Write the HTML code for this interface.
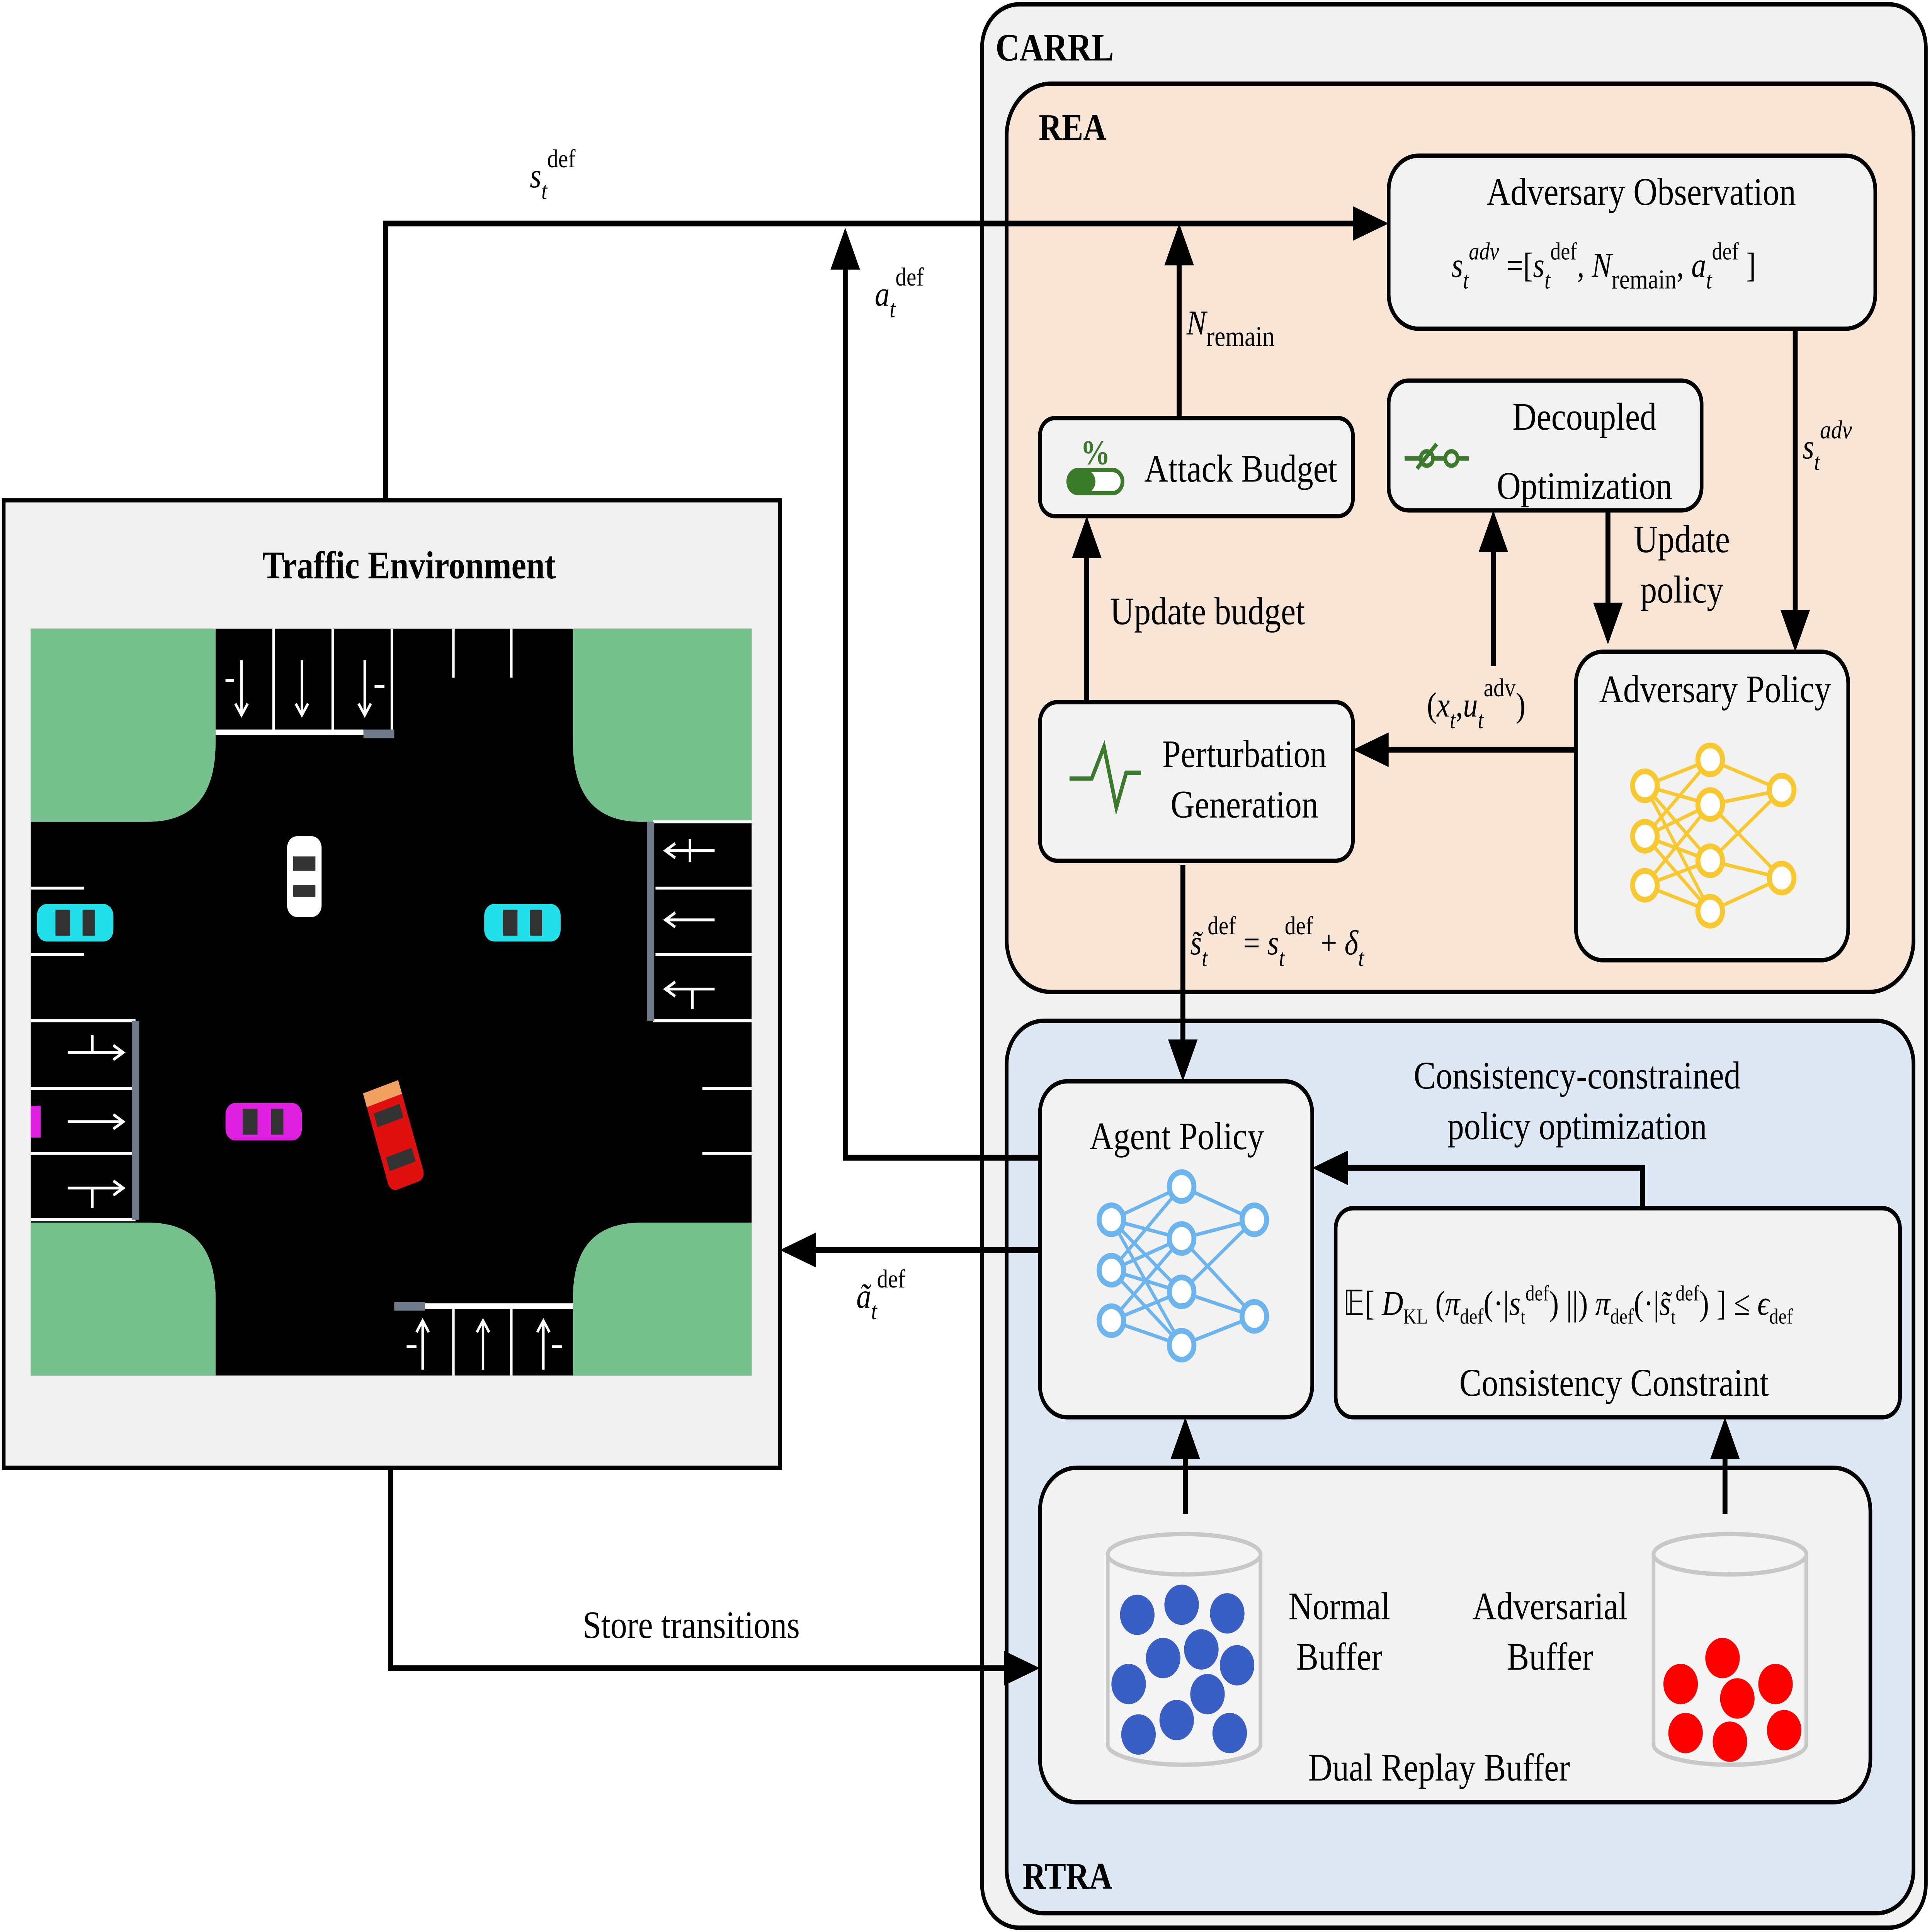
<!DOCTYPE html>
<html><head><meta charset="utf-8">
<style>
html,body{margin:0;padding:0;background:#fff;width:100%;height:100%;overflow:hidden;}
svg{display:block;position:fixed;left:0;top:0;width:100vw;height:100vh;}
text{font-family:"Liberation Serif",serif;fill:#000;}
</style></head>
<body>
<svg viewBox="0 0 1568 1340" preserveAspectRatio="none" xmlns="http://www.w3.org/2000/svg">
<rect width="1568" height="1340" fill="#fff"/>
<rect x="797" y="3" width="766" height="1334" rx="30" fill="#f0f0f0" stroke="#000" stroke-width="3"/>
<text x="808" y="42" font-size="27" font-weight="bold">CARRL</text>
<rect x="817" y="58" width="736" height="630" rx="36" fill="#f8e5d6" stroke="#000" stroke-width="3"/>
<text x="843" y="97" font-size="26" font-weight="bold">REA</text>
<rect x="817" y="708" width="736" height="619" rx="30" fill="#dde8f4" stroke="#000" stroke-width="3"/>
<text x="830" y="1310" font-size="26" font-weight="bold">RTRA</text>

<g fill="#f2f2f2" stroke="#000" stroke-width="3">
<rect x="1127" y="108" width="395" height="120" rx="24"/>
<rect x="1127" y="264" width="254" height="90" rx="16"/>
<rect x="844" y="290" width="254" height="68" rx="12"/>
<rect x="1279" y="452" width="221" height="214" rx="22"/>
<rect x="844" y="487" width="254" height="110" rx="14"/>
<rect x="844" y="750" width="221" height="233" rx="22"/>
<rect x="1084" y="838" width="458" height="145" rx="14"/>
<rect x="844" y="1018" width="674" height="232" rx="30"/>
</g>
<text x="1332" y="142" font-size="27" text-anchor="middle">Adversary Observation</text>
<text x="1178" y="192" font-size="24" font-style="italic">s<tspan dy="8" font-size="17">t</tspan><tspan dy="-20" font-size="17">adv</tspan><tspan dy="12" font-style="normal"> =[</tspan>s<tspan dy="8" font-size="17">t</tspan><tspan dy="-20" font-size="17" font-style="normal">def</tspan><tspan dy="12" font-style="normal">, </tspan>N<tspan dy="8" font-size="19" font-style="normal">remain</tspan><tspan dy="-8" font-style="normal">, </tspan>a<tspan dy="8" font-size="17">t</tspan><tspan dy="-20" font-size="17" font-style="normal">def</tspan><tspan dy="12" font-style="normal"> ]</tspan></text>

<text x="1286" y="298" font-size="27" text-anchor="middle">Decoupled</text>
<text x="1286" y="346" font-size="27" text-anchor="middle">Optimization</text>
<g stroke="#3a7a2a" stroke-width="3" fill="none"><line x1="1140" y1="318" x2="1192" y2="318"/><circle cx="1158" cy="318" r="5" fill="#f2f2f2"/><circle cx="1178" cy="318" r="5" fill="#f2f2f2"/><line x1="1150" y1="325" x2="1166" y2="308"/></g>

<text x="1007" y="334" font-size="27" text-anchor="middle">Attack Budget</text>
<g><rect x="867" y="326" width="44" height="16" rx="8" fill="#fff" stroke="#3a7a2a" stroke-width="3"/><rect x="867" y="326" width="22" height="16" rx="8" fill="#3a7a2a"/><text x="889" y="322" font-size="24" text-anchor="middle" style="fill:#3a7a2a" font-weight="bold">%</text></g>

<text x="1392" y="487" font-size="27" text-anchor="middle">Adversary Policy</text>
<text x="1010" y="532" font-size="27" text-anchor="middle">Perturbation</text>
<text x="1010" y="567" font-size="27" text-anchor="middle">Generation</text>
<polyline points="868,540 886,540 896,518 906,560 914,536 926,536" fill="none" stroke="#3a7a2a" stroke-width="3"/>

<text x="955" y="797" font-size="27" text-anchor="middle">Agent Policy</text>
<text x="1280" y="755" font-size="27" text-anchor="middle">Consistency-constrained</text>
<text x="1280" y="790" font-size="27" text-anchor="middle">policy optimization</text>
<text x="1310" y="968" font-size="27" text-anchor="middle">Consistency Constraint</text>
<text x="1090" y="912" font-size="24">𝔼[ <tspan font-style="italic">D</tspan><tspan dy="6" font-size="15">KL</tspan><tspan dy="-6"> (</tspan><tspan font-style="italic">π</tspan><tspan dy="6" font-size="15">def</tspan><tspan dy="-6">(·|</tspan><tspan font-style="italic">s</tspan><tspan dy="6" font-size="14">t</tspan><tspan dy="-16" font-size="15">def</tspan><tspan dy="10">) ||) </tspan><tspan font-style="italic">π</tspan><tspan dy="6" font-size="15">def</tspan><tspan dy="-6">(·|</tspan><tspan font-style="italic">s̃</tspan><tspan dy="6" font-size="14">t</tspan><tspan dy="-16" font-size="15">def</tspan><tspan dy="10">) ] ≤ </tspan><tspan font-style="italic">ϵ</tspan><tspan dy="6" font-size="15">def</tspan></text>

<text x="1087" y="1123" font-size="27" text-anchor="middle">Normal</text>
<text x="1087" y="1158" font-size="27" text-anchor="middle">Buffer</text>
<text x="1258" y="1123" font-size="27" text-anchor="middle">Adversarial</text>
<text x="1258" y="1158" font-size="27" text-anchor="middle">Buffer</text>
<text x="1168" y="1235" font-size="27" text-anchor="middle">Dual Replay Buffer</text>

<g fill="#f4f4f4" stroke="#c8c8c8" stroke-width="3">
<path d="M899,1078 L899,1210 A62,14 0 0 0 1023,1210 L1023,1078"/>
<ellipse cx="961" cy="1078" rx="62" ry="14"/>
<path d="M1342,1078 L1342,1210 A62,14 0 0 0 1466,1210 L1466,1078"/>
<ellipse cx="1404" cy="1078" rx="62" ry="14"/>
</g>
<g fill="#3a5fc4">
<circle cx="923" cy="1120" r="14"/><circle cx="959" cy="1113" r="14"/><circle cx="996" cy="1119" r="14"/>
<circle cx="944" cy="1150" r="14"/><circle cx="975" cy="1144" r="14"/><circle cx="916" cy="1168" r="14"/>
<circle cx="1004" cy="1155" r="14"/><circle cx="980" cy="1175" r="14"/><circle cx="924" cy="1203" r="14"/>
<circle cx="955" cy="1193" r="14"/><circle cx="998" cy="1202" r="14"/>
</g>
<g fill="#f00">
<circle cx="1398" cy="1150" r="14"/><circle cx="1364" cy="1168" r="14"/><circle cx="1410" cy="1178" r="14"/>
<circle cx="1441" cy="1168" r="14"/><circle cx="1368" cy="1202" r="14"/><circle cx="1404" cy="1208" r="14"/><circle cx="1448" cy="1200" r="14"/>
</g>

<g stroke="#f7c830" stroke-width="2.5" fill="none">
<path d="M1335,545 L1388,527 M1335,545 L1388,558 M1335,545 L1388,597 M1335,545 L1388,632 M1335,580 L1388,527 M1335,580 L1388,558 M1335,580 L1388,597 M1335,580 L1388,632 M1335,614 L1388,558 M1335,614 L1388,597 M1335,614 L1388,632 M1388,527 L1446,548 M1388,558 L1446,548 M1388,597 L1446,548 M1388,558 L1446,609 M1388,597 L1446,609 M1388,632 L1446,609"/>
</g>
<g fill="#fff" stroke="#f7c830" stroke-width="4">
<circle cx="1335" cy="545" r="10"/><circle cx="1335" cy="580" r="10"/><circle cx="1335" cy="614" r="10"/>
<circle cx="1388" cy="527" r="10"/><circle cx="1388" cy="558" r="10"/><circle cx="1388" cy="597" r="10"/><circle cx="1388" cy="632" r="10"/>
<circle cx="1446" cy="548" r="10"/><circle cx="1446" cy="609" r="10"/>
</g>
<g stroke="#6cb4ee" stroke-width="2.5" fill="none">
<path d="M902,846 L959,823 M902,846 L959,859 M902,846 L959,896 M902,846 L959,933 M902,881 L959,823 M902,881 L959,859 M902,881 L959,896 M902,881 L959,933 M902,916 L959,859 M902,916 L959,896 M902,916 L959,933 M959,823 L1018,846 M959,859 L1018,846 M959,896 L1018,846 M959,859 L1018,913 M959,896 L1018,913 M959,933 L1018,913"/>
</g>
<g fill="#fff" stroke="#6cb4ee" stroke-width="4">
<circle cx="902" cy="846" r="10"/><circle cx="902" cy="881" r="10"/><circle cx="902" cy="916" r="10"/>
<circle cx="959" cy="823" r="10"/><circle cx="959" cy="859" r="10"/><circle cx="959" cy="896" r="10"/><circle cx="959" cy="933" r="10"/>
<circle cx="1018" cy="846" r="10"/><circle cx="1018" cy="913" r="10"/>
</g>

<rect x="3" y="347" width="630" height="671" fill="#f0f0f0" stroke="#000" stroke-width="3"/>
<text x="332" y="401" font-size="27" font-weight="bold" text-anchor="middle">Traffic Environment</text>
<rect x="25" y="436" width="585" height="518" fill="#000"/>
<g fill="#76c08e">
<path d="M25,436 L175,436 L175,515 Q175,570 120,570 L25,570 Z"/>
<path d="M465,436 L610,436 L610,570 L520,570 Q465,570 465,515 Z"/>
<path d="M25,848 L120,848 Q175,848 175,900 L175,954 L25,954 Z"/>
<path d="M520,848 L610,848 L610,954 L465,954 L465,900 Q465,848 520,848 Z"/>
</g>
<g stroke="#fff" stroke-width="2" fill="none">
<line x1="175" y1="508" x2="295" y2="508" stroke-width="4"/>
<line x1="222" y1="436" x2="222" y2="506"/><line x1="270" y1="436" x2="270" y2="506"/><line x1="318" y1="436" x2="318" y2="506"/>
<line x1="368" y1="436" x2="368" y2="470"/><line x1="415" y1="436" x2="415" y2="470"/>
<line x1="530" y1="570" x2="610" y2="570"/><line x1="530" y1="708" x2="610" y2="708"/>
<line x1="532" y1="616" x2="610" y2="616"/><line x1="532" y1="662" x2="610" y2="662"/>
<line x1="25" y1="708" x2="110" y2="708"/><line x1="25" y1="755" x2="110" y2="755"/><line x1="25" y1="800" x2="110" y2="800"/><line x1="25" y1="846" x2="110" y2="846"/>
<line x1="25" y1="616" x2="68" y2="616"/><line x1="25" y1="662" x2="68" y2="662"/>
<line x1="570" y1="755" x2="610" y2="755"/><line x1="570" y1="800" x2="610" y2="800"/>
<line x1="320" y1="906" x2="465" y2="906" stroke-width="4"/>
<line x1="368" y1="906" x2="368" y2="954"/><line x1="415" y1="906" x2="415" y2="954"/>
<path d="M196,458 L196,496 M191,488 L196,496 L201,488 M183,472 L190,472"/>
<path d="M245,458 L245,496 M240,488 L245,496 L250,488"/>
<path d="M296,458 L296,496 M291,488 L296,496 L301,488 M304,476 L312,476"/>
<path d="M540,590 L580,590 M548,585 L540,590 L548,595 M560,582 L560,598"/>
<path d="M540,638 L580,638 M548,633 L540,638 L548,643"/>
<path d="M540,686 L580,686 M548,681 L540,686 L548,691 M562,686 L562,700"/>
<path d="M55,730 L100,730 M92,725 L100,730 L92,735 M75,718 L75,730"/>
<path d="M55,778 L100,778 M92,773 L100,778 L92,783"/>
<path d="M55,824 L100,824 M92,819 L100,824 L92,829 M75,824 L75,838"/>
<path d="M343,950 L343,916 M338,924 L343,916 L348,924 M330,934 L338,934"/>
<path d="M392,950 L392,916 M387,924 L392,916 L397,924"/>
<path d="M441,950 L441,916 M436,924 L441,916 L446,924 M448,934 L456,934"/>
</g>
<rect x="295" y="506" width="25" height="6" fill="#6f7a88"/>
<rect x="525" y="570" width="6" height="138" fill="#6f7a88"/>
<rect x="107" y="708" width="6" height="138" fill="#6f7a88"/>
<rect x="320" y="903" width="25" height="6" fill="#6f7a88"/>
<rect x="233" y="580" width="28" height="56" rx="8" fill="#fff"/>
<rect x="238" y="594" width="18" height="10" fill="#333"/><rect x="238" y="614" width="18" height="8" fill="#333"/>
<rect x="30" y="627" width="62" height="26" rx="8" fill="#22e0ea"/>
<rect x="45" y="631" width="12" height="18" fill="#333"/><rect x="67" y="631" width="10" height="18" fill="#333"/>
<rect x="393" y="627" width="62" height="26" rx="8" fill="#22e0ea"/>
<rect x="408" y="631" width="12" height="18" fill="#333"/><rect x="430" y="631" width="10" height="18" fill="#333"/>
<rect x="183" y="765" width="62" height="26" rx="8" fill="#e020e0"/>
<rect x="197" y="769" width="12" height="18" fill="#333"/><rect x="220" y="769" width="10" height="18" fill="#333"/>
<rect x="25" y="767" width="8" height="22" fill="#e020e0"/>
<g transform="rotate(-18 320 788)"><rect x="305" y="752" width="30" height="72" rx="6" fill="#e01010"/><rect x="309" y="768" width="22" height="10" fill="#333"/><rect x="309" y="800" width="22" height="10" fill="#333"/><rect x="305" y="752" width="30" height="10" fill="#f0a060"/></g>

<g stroke="#000" stroke-width="4" fill="none">
<polyline points="313,347 313,155 1100,155"/>
<polyline points="844,803 686,803 686,185"/>
<line x1="957" y1="290" x2="957" y2="182"/>
<line x1="1457" y1="228" x2="1457" y2="425"/>
<line x1="1305" y1="354" x2="1305" y2="420"/>
<line x1="1212" y1="462" x2="1212" y2="382"/>
<line x1="1279" y1="520" x2="1125" y2="520"/>
<line x1="882" y1="487" x2="882" y2="386"/>
<line x1="960" y1="600" x2="960" y2="722"/>
<polyline points="1333,838 1333,810 1092,810"/>
<line x1="844" y1="867" x2="660" y2="867"/>
<line x1="962" y1="1050" x2="962" y2="1010"/>
<line x1="1400" y1="1050" x2="1400" y2="1010"/>
<polyline points="317,1018 317,1157 817,1157"/>
</g>
<g fill="#000">
<polygon points="1127,155 1098,143 1098,167"/>
<polygon points="686,158 674,187 698,187"/>
<polygon points="957,155 945,184 969,184"/>
<polygon points="1457,452 1445,423 1469,423"/>
<polygon points="1305,447 1293,418 1317,418"/>
<polygon points="1212,354 1200,383 1224,383"/>
<polygon points="1098,520 1127,508 1127,532"/>
<polygon points="882,358 870,387 894,387"/>
<polygon points="960,750 948,721 972,721"/>
<polygon points="1065,810 1094,798 1094,822"/>
<polygon points="633,867 662,855 662,879"/>
<polygon points="962,983 950,1012 974,1012"/>
<polygon points="1400,983 1388,1012 1412,1012"/>
<polygon points="844,1157 815,1145 815,1169"/>
</g>

<text x="430" y="130" font-size="24" font-style="italic">s<tspan dy="8" font-size="17">t</tspan><tspan dy="-22" font-size="18" font-style="normal">def</tspan></text>
<text x="710" y="212" font-size="24" font-style="italic">a<tspan dy="8" font-size="17">t</tspan><tspan dy="-22" font-size="18" font-style="normal">def</tspan></text>
<text x="963" y="232" font-size="24" font-style="italic">N<tspan dy="8" font-size="20" font-style="normal">remain</tspan></text>
<text x="1463" y="318" font-size="24" font-style="italic">s<tspan dy="8" font-size="17">t</tspan><tspan dy="-22" font-size="18">adv</tspan></text>
<text x="1365" y="383" font-size="27" text-anchor="middle">Update</text>
<text x="1365" y="418" font-size="27" text-anchor="middle">policy</text>
<text x="1158" y="497" font-size="24">(<tspan font-style="italic">x</tspan><tspan dy="8" font-size="17" font-style="italic">t</tspan><tspan dy="-8">,</tspan><tspan font-style="italic">u</tspan><tspan dy="8" font-size="17" font-style="italic">t</tspan><tspan dy="-22" font-size="18">adv</tspan><tspan dy="14">)</tspan></text>
<text x="980" y="433" font-size="27" text-anchor="middle">Update budget</text>
<text x="966" y="662" font-size="24" font-style="italic">s̃<tspan dy="8" font-size="17">t</tspan><tspan dy="-22" font-size="18" font-style="normal">def</tspan><tspan dy="14" font-style="normal"> = </tspan>s<tspan dy="8" font-size="17">t</tspan><tspan dy="-22" font-size="18" font-style="normal">def</tspan><tspan dy="14" font-style="normal"> + </tspan>δ<tspan dy="8" font-size="17">t</tspan></text>
<text x="695" y="907" font-size="24" font-style="italic">ã<tspan dy="8" font-size="17">t</tspan><tspan dy="-22" font-size="18" font-style="normal">def</tspan></text>
<text x="561" y="1136" font-size="27" text-anchor="middle">Store transitions</text>
</svg>
</body></html>
